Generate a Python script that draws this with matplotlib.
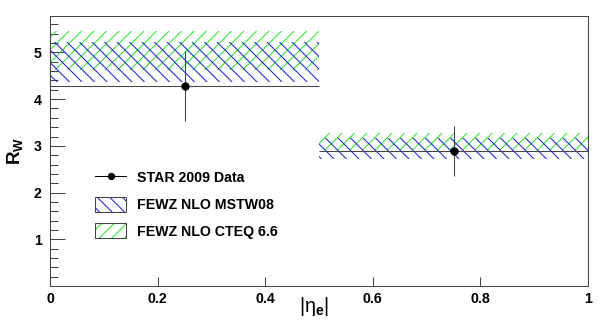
import numpy as np
import matplotlib
matplotlib.use("Agg")
import matplotlib.pyplot as plt
from matplotlib.patches import Patch
from matplotlib.lines import Line2D
from matplotlib.legend_handler import HandlerTuple

# W+/W- ratio vs electron pseudorapidity
bin_edges = [0.0, 0.5, 1.0]
eta_centers = [0.25, 0.75]
eta_halfwidth = [0.25, 0.25]
rw_data = [4.28, 2.89]
rw_err = [0.75, 0.53]

# theory bands (low, high) per bin
mstw_lo = [4.36, 2.71]
mstw_hi = [5.22, 3.16]
cteq_lo = [4.62, 2.91]
cteq_hi = [5.45, 3.28]

blue = "#2020f0"
green = "#20f020"
frame = "#444444"

plt.rcParams["font.family"] = ["Liberation Sans", "DejaVu Sans"]
plt.rcParams["mathtext.fontset"] = "custom"
plt.rcParams["mathtext.rm"] = "Liberation Sans"
plt.rcParams["mathtext.it"] = "Liberation Sans"
plt.rcParams["mathtext.bf"] = "Liberation Sans:bold"
plt.rcParams["hatch.linewidth"] = 1.0

# dpi 75 keeps the hatch spacing close to ROOT's
fig = plt.figure(figsize=(8, 329 / 75), dpi=75)
ax = fig.add_axes([50 / 600, 43 / 329, 538 / 600, 270 / 329])


def band(lo, hi, color, hatch):
    for i in range(len(lo)):
        ax.fill_between([bin_edges[i], bin_edges[i + 1]], lo[i], hi[i],
                        facecolor="none", edgecolor=color, hatch=hatch,
                        linewidth=0, zorder=2)


band(cteq_lo, cteq_hi, green, "//")
band(mstw_lo, mstw_hi, blue, "\\\\")

ax.errorbar(eta_centers, rw_data, xerr=eta_halfwidth, yerr=rw_err,
            fmt="o", color="black", ecolor=frame, elinewidth=1,
            markersize=7, capsize=0, zorder=3)

ax.set_xlim(0, 1)
ax.set_ylim(0, 5.78)
ax.set_xticks([0, 0.2, 0.4, 0.6, 0.8, 1])
ax.set_xticklabels(["0", "0.2", "0.4", "0.6", "0.8", "1"])
ax.set_yticks([1, 2, 3, 4, 5])
ax.set_yticks(np.arange(0.2, 5.7, 0.2), minor=True)

ax.tick_params(axis="both", which="both", direction="in", color=frame,
               width=1, labelsize=13.5)
ax.tick_params(axis="y", which="major", length=14.5, pad=8)
ax.tick_params(axis="y", which="minor", length=7.5)
ax.tick_params(axis="x", which="major", length=8.5, pad=6)
for lab in ax.get_xticklabels() + ax.get_yticklabels():
    lab.set_fontweight("bold")
for s in ax.spines.values():
    s.set_color(frame)
    s.set_linewidth(1)

ax.set_ylabel(r"R$_{\mathbf{W}}$", fontsize=18, fontweight="bold")
ax.yaxis.set_label_coords(-0.046, 0.5)
ax.set_xlabel(r"$|\eta_{\mathbf{e}}|$", fontsize=19)
ax.xaxis.set_label_coords(0.49, -0.035)

# legend
h_data = Line2D([], [], color="black", marker="o", markersize=6, linewidth=1)
h_mstw = (Patch(facecolor="none", edgecolor=blue, hatch="\\\\", linewidth=0),
          Patch(facecolor="none", edgecolor=frame, linewidth=1))
h_cteq = (Patch(facecolor="none", edgecolor=green, hatch="//", linewidth=0),
          Patch(facecolor="none", edgecolor=frame, linewidth=1))
leg = ax.legend([h_data, h_mstw, h_cteq],
                ["STAR 2009 Data", "FEWZ NLO MSTW08", "FEWZ NLO CTEQ 6.6"],
                handler_map={tuple: HandlerTuple(ndivide=1, pad=0)},
                loc="upper left", bbox_to_anchor=(0.084, 0.43),
                frameon=False, prop={"weight": "bold", "size": 13.5},
                handlelength=2.2, handleheight=1.3, labelspacing=0.8,
                handletextpad=0.8, borderaxespad=0, borderpad=0)

fig.savefig("out.png", dpi=75)
